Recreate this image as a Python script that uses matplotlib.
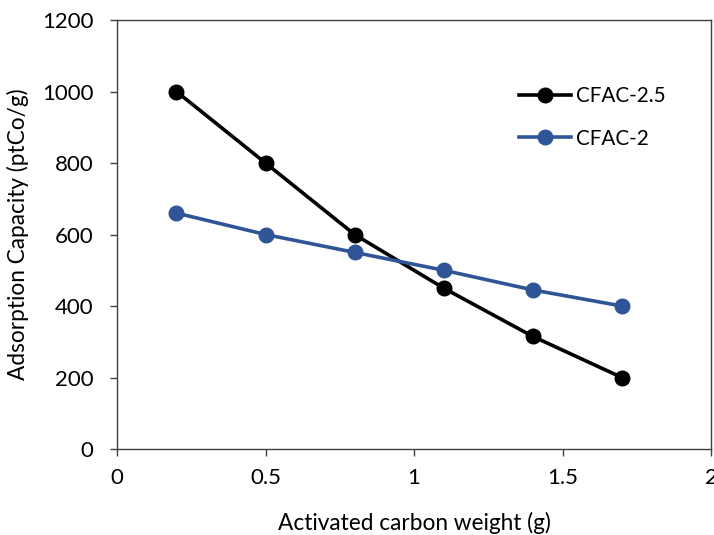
import matplotlib.pyplot as plt

plt.rcParams['font.family'] = ['Lato', 'DejaVu Sans']

weight = [0.2, 0.5, 0.8, 1.1, 1.4, 1.7]
cfac_25 = [1000, 800, 600, 450, 315, 200]
cfac_2 = [660, 600, 550, 500, 445, 400]

fig = plt.figure(figsize=(7.14, 5.35), dpi=100)
ax = fig.add_axes([0.1639, 0.1607, 0.8319, 0.8019])

ax.plot(weight, cfac_25, color='black', lw=2.6, marker='o', ms=10.5, label='CFAC-2.5')
ax.plot(weight, cfac_2, color='#2f5597', lw=2.6, marker='o', ms=10.5, label='CFAC-2')

ax.set_xlim(0, 2)
ax.set_ylim(0, 1200)
ax.set_xticks([0, 0.5, 1, 1.5, 2])
ax.set_xticklabels(['0', '0.5', '1', '1.5', '2'])
ax.set_yticks(range(0, 1201, 200))

for s in ax.spines.values():
    s.set_color('#404040')
    s.set_linewidth(1.0)
ax.tick_params(direction='out', length=5, width=1, color='#404040', labelsize=16)
ax.tick_params(axis='x', pad=9)
ax.tick_params(axis='y', pad=12)

ax.set_xlabel('Activated carbon weight (g)', fontsize=16.3, labelpad=17)
ax.set_ylabel('Adsorption Capacity (ptCo/g)', fontsize=16.3, labelpad=9)

ax.legend(loc='upper left', bbox_to_anchor=(0.645, 0.89), frameon=False, fontsize=14.9,
          handlelength=2.5, handletextpad=0.25, labelspacing=1.1)

fig.savefig('out.png', dpi=100)
